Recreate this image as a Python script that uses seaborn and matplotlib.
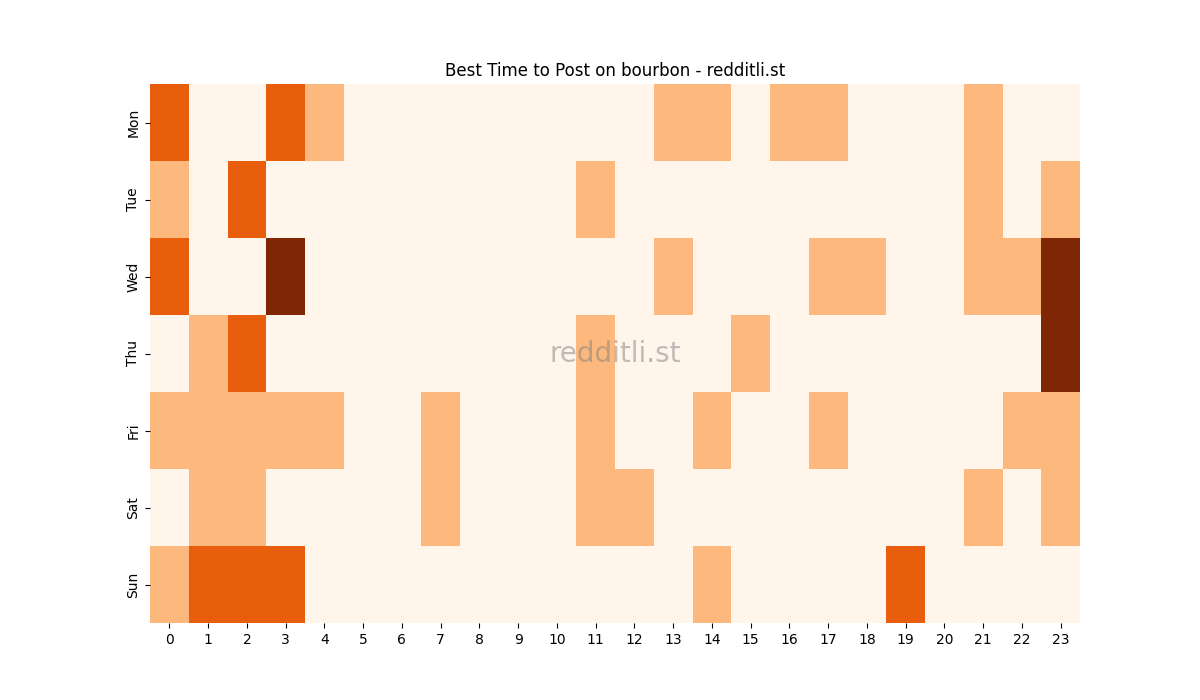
import matplotlib
matplotlib.use("Agg")
import matplotlib.pyplot as plt
import seaborn as sns
import pandas as pd

days = ["Mon", "Tue", "Wed", "Thu", "Fri", "Sat", "Sun"]
hours = list(range(24))

mon = [2,0,0,2,1,0,0,0,0,0,0,0,0,1,1,0,1,1,0,0,0,1,0,0]
tue = [1,0,2,0,0,0,0,0,0,0,0,1,0,0,0,0,0,0,0,0,0,1,0,1]
wed = [2,0,0,3,0,0,0,0,0,0,0,0,0,1,0,0,0,1,1,0,0,1,1,3]
thu = [0,1,2,0,0,0,0,0,0,0,0,1,0,0,0,1,0,0,0,0,0,0,0,3]
fri = [1,1,1,1,1,0,0,1,0,0,0,1,0,0,1,0,0,1,0,0,0,0,1,1]
sat = [0,1,1,0,0,0,0,1,0,0,0,1,1,0,0,0,0,0,0,0,0,1,0,1]
sun = [1,2,2,2,0,0,0,0,0,0,0,0,0,0,1,0,0,0,0,2,0,0,0,0]

df = pd.DataFrame([mon, tue, wed, thu, fri, sat, sun], index=days, columns=hours)

fig, ax = plt.subplots(figsize=(12, 7), dpi=100)
sns.heatmap(df, cmap="Oranges", cbar=False, ax=ax, vmin=0, vmax=3)
ax.set_title("Best Time to Post on bourbon - redditli.st")
ax.set_xlabel("")
ax.set_ylabel("")
ax.text(0.5, 0.5, "redditli.st", transform=ax.transAxes, ha="center", va="center",
        fontsize=20, color="gray", alpha=0.5)
fig.savefig("out.png", dpi=100)
